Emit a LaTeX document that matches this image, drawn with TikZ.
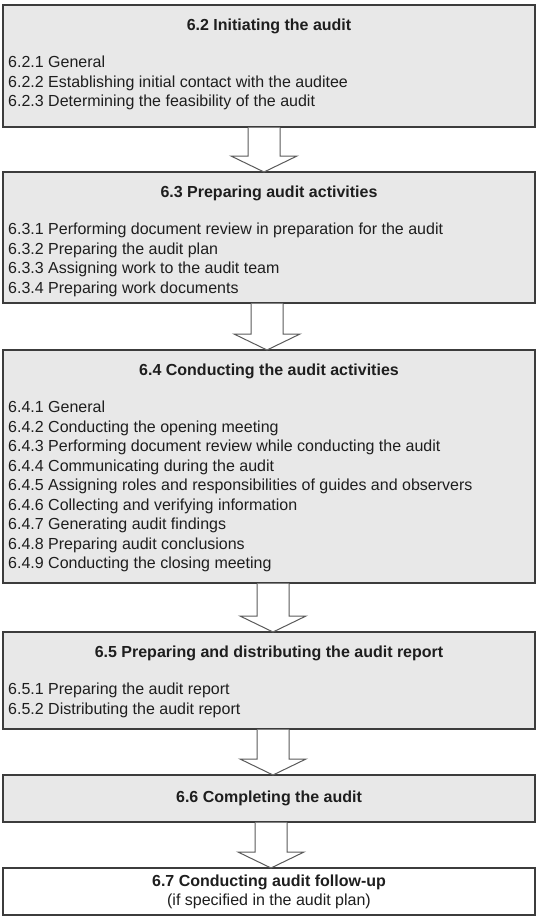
\documentclass[tikz,border=0pt]{standalone}
\usepackage{fontspec}
\setmainfont{Liberation Sans}
\usetikzlibrary{positioning}

\definecolor{boxgray}{HTML}{E8E8E8}
\definecolor{edgegray}{HTML}{3C3C3C}
\definecolor{arrowgray}{HTML}{5A5A5A}
\definecolor{inkgray}{HTML}{1E1E1E}

% hollow block arrow from one stage box down to the next
\newcommand{\hollowarrow}[3]{%
    \draw[hollow] ([xshift=#3-16pt,yshift=-0.7pt]#1.south) -- ([xshift=#3-16pt,yshift=16pt]#2.north)
    -- ([xshift=#3-33pt,yshift=16pt]#2.north) -- ([xshift=#3]#2.north)
    -- ([xshift=#3+33pt,yshift=16pt]#2.north) -- ([xshift=#3+16pt,yshift=16pt]#2.north)
    -- ([xshift=#3+16pt,yshift=-0.7pt]#1.south);}

\begin{document}
\begin{tikzpicture}[x=1pt, y=-1pt,
    stagebox/.style={draw=edgegray, line width=1.1pt, fill=boxgray, minimum width=532pt,
        outer sep=0pt, inner sep=0pt, text=inkgray, align=center,
        font=\fontsize{16pt}{19pt}\selectfont},
    titletext/.style={anchor=base, inner sep=0pt, text=inkgray,
        font=\fontsize{16pt}{19.5pt}\selectfont\bfseries},
    itemlist/.style={anchor=north west, inner sep=0pt, align=left, text=inkgray,
        font=\fontsize{16pt}{19.5pt}\selectfont},
    hollow/.style={draw=arrowgray, line width=1pt, fill=white, line join=miter}]
    \useasboundingbox (0,0) rectangle (537,916);

    \node[stagebox, minimum height=122pt] (init) at (269,66) {};
    \node[stagebox, minimum height=131pt, below=45pt of init] (prep) {};
    \node[stagebox, minimum height=233pt, below=47pt of prep] (conduct) {};
    \node[stagebox, minimum height=97pt, below=49pt of conduct] (report) {};
    \node[stagebox, minimum height=47pt, below=46pt of report] (complete) {\bfseries 6.6 Completing the audit};
    \node[stagebox, fill=white, minimum height=47pt, below=46pt of complete] (followup)
        {{\bfseries 6.7 Conducting audit follow-up}\\(if specified in the audit plan)};

    \node[titletext] (inittitle) at ([yshift=-25pt]init.north) {6.2 Initiating the audit};
    \node[itemlist] (inititems) at ([xshift=5pt,yshift=-51pt]init.north west)
        {6.2.1 General\\
        6.2.2 Establishing initial contact with the auditee\\
        6.2.3 Determining the feasibility of the audit};

    \node[titletext] (preptitle) at ([yshift=-25pt]prep.north) {6.3 Preparing audit activities};
    \node[itemlist] (prepitems) at ([xshift=5pt,yshift=-51pt]prep.north west)
        {6.3.1 Performing document review in preparation for the audit\\
        6.3.2 Preparing the audit plan\\
        6.3.3 Assigning work to the audit team\\
        6.3.4 Preparing work documents};

    \node[titletext] (conducttitle) at ([yshift=-25pt]conduct.north) {6.4 Conducting the audit activities};
    \node[itemlist] (conductitems) at ([xshift=5pt,yshift=-51pt]conduct.north west)
        {6.4.1 General\\
        6.4.2 Conducting the opening meeting\\
        6.4.3 Performing document review while conducting the audit\\
        6.4.4 Communicating during the audit\\
        6.4.5 Assigning roles and responsibilities of guides and observers\\
        6.4.6 Collecting and verifying information\\
        6.4.7 Generating audit findings\\
        6.4.8 Preparing audit conclusions\\
        6.4.9 Conducting the closing meeting};

    \node[titletext] (reporttitle) at ([yshift=-25pt]report.north) {6.5 Preparing and distributing the audit report};
    \node[itemlist] (reportitems) at ([xshift=5pt,yshift=-51pt]report.north west)
        {6.5.1 Preparing the audit report\\
        6.5.2 Distributing the audit report};

    \hollowarrow{init}{prep}{-5pt}
    \hollowarrow{prep}{conduct}{-2pt}
    \hollowarrow{conduct}{report}{4pt}
    \hollowarrow{report}{complete}{4pt}
    \hollowarrow{complete}{followup}{2pt}
\end{tikzpicture}
\end{document}
